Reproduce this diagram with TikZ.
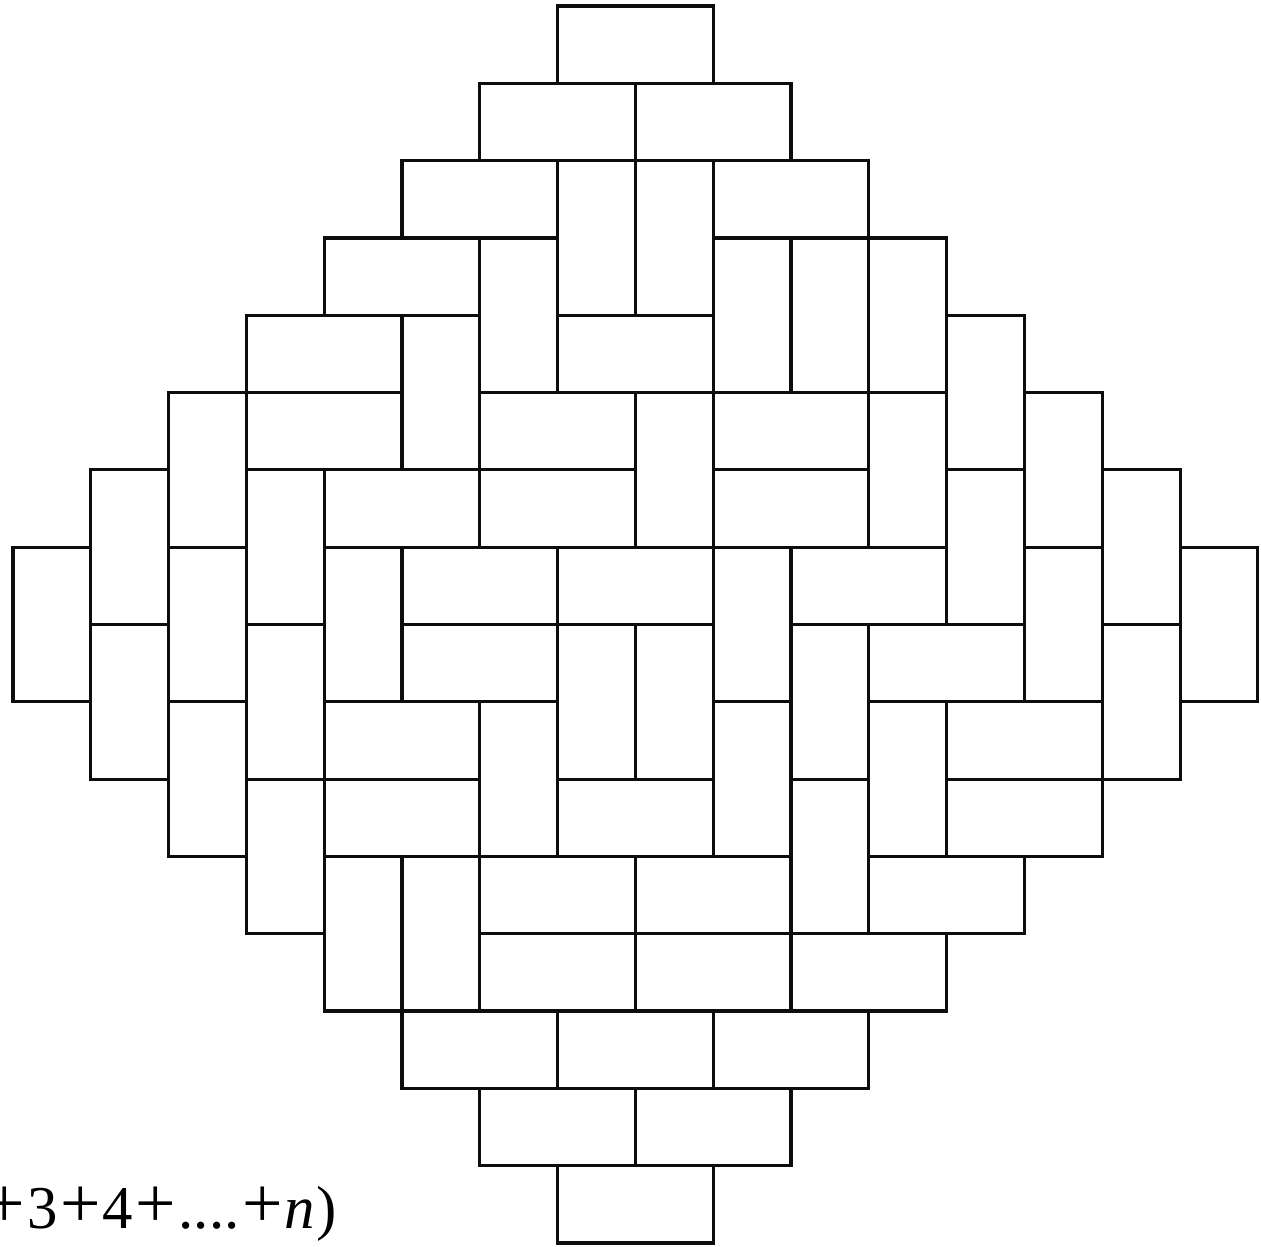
\documentclass[tikz,border=0pt]{standalone}
\usepackage{fontspec}
\setmainfont{Liberation Serif}
\usepackage{tikz}
\definecolor{tileink}{rgb}{0.05,0.05,0.05}
\newcommand{\bigplus}{\kern0.7pt\raisebox{0.3pt}{\scalebox{1.18}{+}}\kern0.7pt}

\begin{document}
\begin{tikzpicture}[
  x=0.778cm, y=-0.773cm,
  domino/.style={draw=tileink, line width=0.9pt, line join=miter},
  sumtext/.style={inner sep=0pt, anchor=base west, text=black,
                  font=\fontsize{17.3}{20}\selectfont}
]
\useasboundingbox (-0.167,-0.078) rectangle (16.04,16.04);

% lying dominoes: row/column of the left cell
\foreach \r/\c in {0/7, 1/6, 1/8, 2/5, 2/9, 3/4, 4/3, 4/7, 5/3, 5/6, 5/9,
                   6/4, 6/6, 6/9, 7/5, 7/7, 7/10, 8/5, 8/11, 9/4, 9/12,
                   10/4, 10/7, 10/12, 11/6, 11/8, 11/11, 12/6, 12/8, 12/10,
                   13/5, 13/7, 13/9, 14/6, 14/8, 15/7}
  \draw[domino] (\c,\r) rectangle ++(2,1);

% standing dominoes: row/column of the upper cell
\foreach \r/\c in {2/7, 2/8, 3/6, 3/9, 3/10, 3/11, 4/5, 4/12, 5/2, 5/8, 5/11,
                   5/13, 6/1, 6/3, 6/12, 6/14, 7/0, 7/2, 7/4, 7/9, 7/13, 7/15,
                   8/1, 8/3, 8/7, 8/8, 8/10, 8/14, 9/2, 9/6, 9/9, 9/11,
                   10/3, 10/10, 11/4, 11/5}
  \draw[domino] (\c,\r) rectangle ++(1,2);

\node[sumtext] (sum) at (-0.41,15.81)
  {\bigplus 3\bigplus 4\bigplus ....\bigplus\textit{n}\kern0.3pt)};

\end{tikzpicture}
\end{document}
